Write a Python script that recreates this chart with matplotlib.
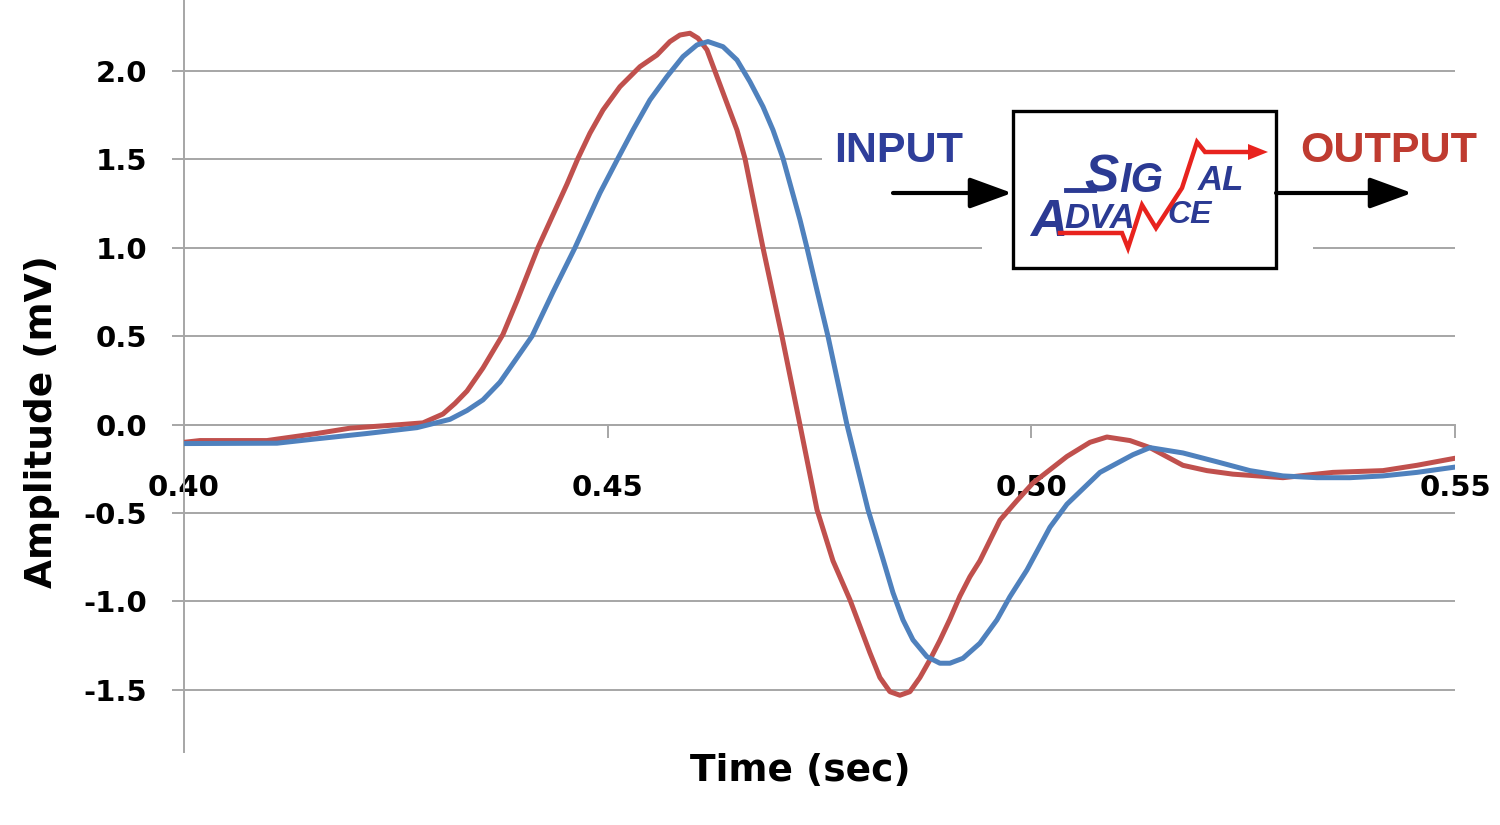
import matplotlib
matplotlib.use('Agg')
import matplotlib.pyplot as plt
from matplotlib import font_manager
from matplotlib.patches import Rectangle, FancyArrowPatch, ArrowStyle, Polygon
from matplotlib.lines import Line2D
from matplotlib.transforms import Affine2D

# input signal (blue)
input_t = [0.40000, 0.41097, 0.41570, 0.42160, 0.42750, 0.43139, 0.43340, 0.43528, 0.43729,
           0.44107, 0.44355, 0.44614, 0.44909, 0.45122, 0.45299, 0.45499, 0.45700, 0.45889,
           0.46054, 0.46184, 0.46361, 0.46526, 0.46679, 0.46833, 0.46951, 0.47069, 0.47269,
           0.47352, 0.47470, 0.47600, 0.47824, 0.48072, 0.48249, 0.48367, 0.48485, 0.48603,
           0.48768, 0.48921, 0.49039, 0.49193, 0.49393, 0.49594, 0.49747, 0.49948, 0.50220,
           0.50420, 0.50810, 0.51199, 0.51400, 0.51789, 0.52190, 0.52580, 0.52969, 0.53370,
           0.53760, 0.54149, 0.54550, 0.55000]
input_mv = [-0.107, -0.105, -0.08, -0.05, -0.017, 0.03, 0.08, 0.14, 0.24,
            0.50, 0.75, 1.00, 1.31, 1.506, 1.666, 1.836, 1.968, 2.081,
            2.147, 2.166, 2.137, 2.062, 1.939, 1.798, 1.666, 1.506, 1.16,
            1.00, 0.76, 0.50, 0.00, -0.48, -0.76, -0.95, -1.104, -1.217,
            -1.312, -1.349, -1.349, -1.321, -1.236, -1.104, -0.973, -0.822, -0.58,
            -0.45, -0.27, -0.17, -0.13, -0.16, -0.21, -0.26, -0.29, -0.30,
            -0.30, -0.29, -0.27, -0.24]

# output signal (red)
output_t = [0.40000, 0.40189, 0.40979, 0.41570, 0.41959, 0.42549, 0.42820, 0.43056, 0.43198,
            0.43340, 0.43528, 0.43764, 0.43930, 0.44177, 0.44520, 0.44650, 0.44791, 0.44945,
            0.45145, 0.45381, 0.45582, 0.45735, 0.45853, 0.45971, 0.46066, 0.46172, 0.46290,
            0.46408, 0.46526, 0.46620, 0.46833, 0.47057, 0.47269, 0.47470, 0.47659, 0.47859,
            0.47977, 0.48095, 0.48213, 0.48331, 0.48449, 0.48567, 0.48685, 0.48803, 0.48921,
            0.49039, 0.49157, 0.49275, 0.49393, 0.49630, 0.49830, 0.50019, 0.50420, 0.50692,
            0.50892, 0.51164, 0.51400, 0.51789, 0.52072, 0.52379, 0.52969, 0.53559, 0.54149,
            0.54550, 0.55000]
output_mv = [-0.10, -0.09, -0.09, -0.05, -0.02, 0.00, 0.01, 0.06, 0.12,
             0.19, 0.32, 0.51, 0.70, 1.00, 1.36, 1.506, 1.648, 1.779,
             1.911, 2.024, 2.090, 2.166, 2.203, 2.213, 2.185, 2.119, 1.968,
             1.817, 1.666, 1.506, 1.00, 0.50, 0.00, -0.48, -0.77, -0.99,
             -1.14, -1.29, -1.43, -1.51, -1.53, -1.51, -1.43, -1.33, -1.22,
             -1.10, -0.97, -0.86, -0.77, -0.54, -0.43, -0.33, -0.18, -0.10,
             -0.07, -0.09, -0.13, -0.23, -0.26, -0.28, -0.30, -0.27, -0.26,
             -0.23, -0.19]

x_ticks = [0.40, 0.45, 0.50, 0.55]
y_ticks = [-1.5, -1.0, -0.5, 0.0, 0.5, 1.0, 1.5, 2.0]

BLUE = '#4F81BD'
RED = '#C0504D'
GRID = '#A6A6A6'
LOGO_BLUE = '#2B3A93'
LOGO_RED = '#E8231E'


def have_font(fam):
    try:
        font_manager.findfont(font_manager.FontProperties(family=fam), fallback_to_default=False)
        return True
    except ValueError:
        return False


narrow = have_font('Liberation Sans Narrow')
label_font = 'Liberation Sans Narrow' if narrow else 'Liberation Sans'
big = 35 if narrow else 31

fig = plt.figure(figsize=(15, 8.25), dpi=100)
ax = fig.add_axes([184 / 1500, 1 - 752 / 825, 1271 / 1500, 752 / 825])
# pixel coords of the picture (origin top-left) for the overlay bits
px = Affine2D().scale(1 / 1500, -1 / 825).translate(0, 1) + fig.transFigure

ax.plot(output_t, output_mv, color=RED, lw=3.6, solid_joinstyle='round', solid_capstyle='round', zorder=3)
ax.plot(input_t, input_mv, color=BLUE, lw=3.6, solid_joinstyle='round', solid_capstyle='round', zorder=4)

for s in ['top', 'right']:
    ax.spines[s].set_visible(False)
ax.spines['left'].set_color(GRID)
ax.spines['left'].set_linewidth(1.4)
ax.spines['bottom'].set_position(('data', 0))
ax.spines['bottom'].set_color(GRID)
ax.spines['bottom'].set_linewidth(1.4)

ax.set_xlim(0.40, 0.55)
ax.set_ylim(-1.851, 2.401)
ax.set_xticks(x_ticks)
ax.set_xticklabels(['%.2f' % v for v in x_ticks], fontweight='bold')
ax.set_yticks(y_ticks)
ax.set_yticklabels(['%.1f' % v for v in y_ticks], fontweight='bold')
ax.tick_params(axis='y', direction='out', length=8.6, width=1.4, color=GRID, pad=18, labelsize=21)
ax.tick_params(axis='x', direction='out', length=9.4, width=1.4, color=GRID, pad=26, labelsize=21)

ax.yaxis.grid(True, color=GRID, lw=1.4)
ax.set_axisbelow(True)

ax.set_ylabel('Amplitude (mV)', fontsize=27, fontweight='bold', ha='center', va='center')
ax.yaxis.set_label_coords((42 - 184) / 1271, (752 - 422) / 752)
ax.set_xlabel('Time (sec)', fontsize=27, fontweight='bold', ha='center', va='center')
ax.xaxis.set_label_coords((800 - 184) / 1271, -(771 - 752) / 752)

# white background behind the pasted diagram
ax.add_patch(Rectangle((822, 92), 640, 113, transform=px, facecolor='white', edgecolor='none', zorder=1))
ax.add_patch(Rectangle((982, 205), 331, 70, transform=px, facecolor='white', edgecolor='none', zorder=1))

# block diagram
fig.add_artist(Rectangle((1013, 111), 263, 157, transform=px, facecolor='white',
                         edgecolor='black', lw=2.4, zorder=5))
for a, b in [((893, 193), (1012, 193)), ((1276, 193), (1412, 193))]:
    fig.add_artist(FancyArrowPatch(a, b, transform=px, arrowstyle=ArrowStyle('-|>', head_length=26, head_width=9.5),
                                   mutation_scale=1, color='black', lw=3, shrinkA=0, shrinkB=0, zorder=6))

fig.text(834, 162, 'INPUT', transform=px, ha='left', va='baseline', color='#2E3E9A',
         fontsize=big, fontweight='bold', family=label_font)
fig.text(1300, 162, 'OUTPUT', transform=px, ha='left', va='baseline', color='#BF3B30',
         fontsize=big, fontweight='bold', family=label_font)

# logo inside the box
logo = dict(transform=px, ha='left', va='baseline', color=LOGO_BLUE, fontweight='bold',
            fontstyle='italic', family=label_font, zorder=7)
fig.add_artist(Line2D([1066, 1094], [190, 190], transform=px, color=LOGO_BLUE, lw=3.5, zorder=7))
fig.text(1084, 192, 'S', fontsize=37, **logo)
fig.text(1119, 192, 'IG', fontsize=30, **logo)
fig.text(1198, 190, 'AL', fontsize=25, **logo)
fig.text(1030, 236, 'A', fontsize=37, **logo)
fig.text(1064, 228, 'DVA', fontsize=25, **logo)
fig.text(1167, 223, 'CE', fontsize=23, **logo)
zig_x = [1060, 1122, 1128, 1142, 1156, 1182, 1197, 1205, 1252]
zig_y = [233, 233, 248, 205, 228, 188, 142, 152, 152]
fig.add_artist(Line2D(zig_x, zig_y, transform=px, color=LOGO_RED, lw=3.2, solid_joinstyle='miter', zorder=8))
fig.add_artist(Polygon([(1248, 144), (1268, 152), (1248, 160)], closed=True, transform=px,
                       facecolor=LOGO_RED, edgecolor='none', zorder=8))

fig.savefig('out.png', dpi=100)
